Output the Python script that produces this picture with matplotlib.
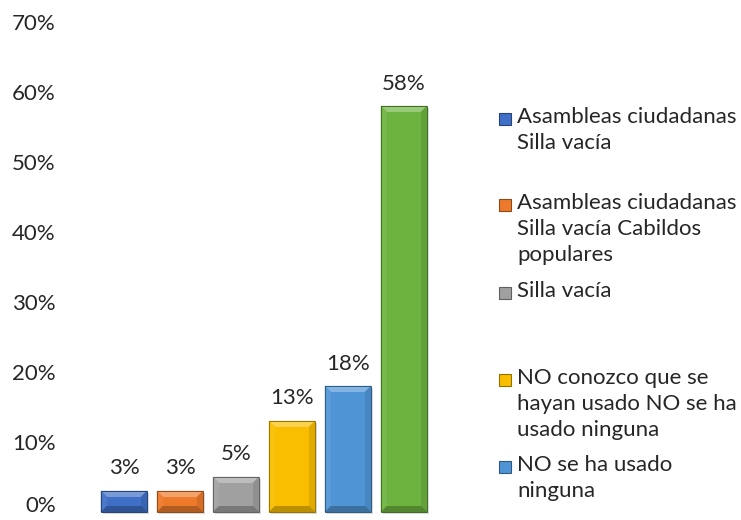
import matplotlib
matplotlib.use("Agg")
import matplotlib.pyplot as plt
from matplotlib.patches import Polygon, Rectangle
from matplotlib.transforms import IdentityTransform
from matplotlib.colors import to_rgb
import numpy as np

# values (percent)
categories = ["Asambleas ciudadanas\nSilla vacía",
              "Asambleas ciudadanas\nSilla vacía Cabildos\npopulares",
              "Silla vacía",
              "NO conozco que se\nhayan usado NO se ha\nusado ninguna",
              "NO se ha usado\nninguna",
              "Otros"]
values = [3, 3, 5, 13, 18, 58]
colors = ["#3F6FC6", "#EC7A2A", "#A0A0A0", "#F9BE00", "#4F95D6", "#6DB33F"]
y_ticks = [0, 10, 20, 30, 40, 50, 60, 70]
legend_count = 5          # the green entry is cut off in the original
legend_tops = [119, 205, 293, 380, 467]   # pixel rows of each entry's first line

W, H = 741, 520
plt.rcParams["font.family"] = ["Lato", "DejaVu Sans"]
FS = 16
TXT = "#262626"

fig = plt.figure(figsize=(W / 100, H / 100), dpi=100)
ax = fig.add_axes([96 / W, (H - 512) / H, 336 / W, 490 / H])

x = np.arange(len(values))
bars = ax.bar(x, values, width=46 / 56, color=colors, linewidth=0, zorder=2)
ax.set_xlim(-0.5, len(values) - 0.5)
ax.set_ylim(0, 70)
ax.set_yticks(y_ticks)
ax.set_yticklabels([f"{t}%" for t in y_ticks], fontsize=FS, color=TXT)
ax.set_xticks([])
ax.tick_params(axis="y", length=0, pad=29)
for s in ax.spines.values():
    s.set_visible(False)
# keep the bottom label inside the canvas, as in the original
ax.get_yticklabels()[0].set_va("baseline")


def mix(c, other, t):
    c = np.array(to_rgb(c))
    return tuple(c + (np.array(other) - c) * t)


def bevel(ax, rect, color, d=6):
    # bevelled bar drawn in display pixels over the plain bar
    (x0, y0), (x1, y1) = ax.transData.transform(
        [(rect.get_x(), rect.get_y()),
         (rect.get_x() + rect.get_width(), rect.get_y() + rect.get_height())])
    dd = min(d, (y1 - y0) / 2.5)
    tr = IdentityTransform()
    ax.add_patch(Rectangle((x0 + 2, y0 - 2), x1 - x0, y1 - y0, transform=tr,
                           facecolor=(0, 0, 0, 0.15), linewidth=0, zorder=1,
                           clip_on=False))
    facets = [
        ([(x0, y1), (x1, y1), (x1 - dd, y1 - dd), (x0 + dd, y1 - dd)], mix(color, (1, 1, 1), 0.3)),
        ([(x0, y0), (x0, y1), (x0 + dd, y1 - dd), (x0 + dd, y0 + dd)], mix(color, (1, 1, 1), 0.06)),
        ([(x1, y0), (x1, y1), (x1 - dd, y1 - dd), (x1 - dd, y0 + dd)], mix(color, (0, 0, 0), 0.1)),
        ([(x0, y0), (x1, y0), (x1 - dd, y0 + dd), (x0 + dd, y0 + dd)], mix(color, (0, 0, 0), 0.25)),
    ]
    for pts, fc in facets:
        ax.add_patch(Polygon(pts, closed=True, transform=tr, facecolor=fc,
                             edgecolor=fc, linewidth=0.3, zorder=3, clip_on=False))
    ax.add_patch(Rectangle((x0 + dd, y0 + dd), x1 - x0 - 2 * dd, y1 - y0 - 2 * dd,
                           transform=tr, facecolor=color,
                           linewidth=0, zorder=3, clip_on=False))
    ax.add_patch(Rectangle((x0, y0), x1 - x0, y1 - y0, transform=tr,
                           facecolor="none", edgecolor=mix(color, (0, 0, 0), 0.4),
                           linewidth=0.7, zorder=4, clip_on=False))


for rect, c, v in zip(bars, colors, values):
    bevel(ax, rect, c)
    ax.annotate(f"{v}%", (rect.get_x() + rect.get_width() / 2, v),
                xytext=(0, 9), textcoords="offset points",
                ha="center", va="bottom", fontsize=FS, color=TXT)

# legend drawn by hand to keep the original's uneven spacing
for lab, c, top in zip(categories[:legend_count], colors, legend_tops):
    fig.text(517 / W, (H - top + 12) / H, lab, fontsize=FS, color=TXT,
             ha="left", va="top", linespacing=1.38)
    s = 12
    fig.add_artist(Rectangle((499 / W, (H - top - s / 2) / H), s / W, s / H,
                             transform=fig.transFigure, facecolor=c,
                             edgecolor=mix(c, (0, 0, 0), 0.4), linewidth=0.8))

fig.savefig("out.png", dpi=100)
plt.close(fig)
